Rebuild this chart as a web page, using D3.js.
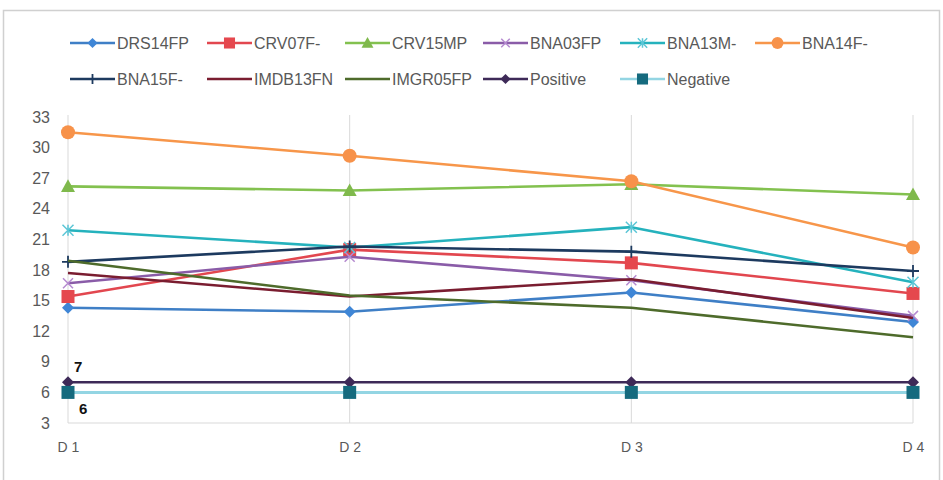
<!DOCTYPE html>
<html>
<head>
<meta charset="utf-8">
<script src="https://cdn.jsdelivr.net/npm/d3@7"></script>
<style>
  html, body { margin: 0; padding: 0; background: #fff; }
  svg { display: block; font-family: "Liberation Sans", Arial, sans-serif; }
</style>
</head>
<body>
<svg id="chart" width="943" height="480"></svg>
<script>
// Days on the x axis
const categories = ["D 1", "D 2", "D 3", "D 4"];

// Series values per day
const DRS14FP  = [14.3, 13.9, 15.8, 12.9];
const CRV07F   = [15.4, 20.0, 18.7, 15.7];
const CRV15MP  = [26.2, 25.8, 26.4, 25.4];
const BNA03FP  = [16.7, 19.3, 17.0, 13.5];
const BNA13M   = [21.9, 20.2, 22.2, 16.8];
const BNA14F   = [31.5, 29.2, 26.7, 20.2];
const BNA15F   = [18.8, 20.3, 19.8, 17.9];
const IMDB13FN = [17.7, 15.4, 17.1, 13.3];
const IMGR05FP = [18.9, 15.5, 14.3, 11.4];
const Positive = [7, 7, 7, 7];
const Negative = [6, 6, 6, 6];

// Y axis ticks
const yTicks = [3, 6, 9, 12, 15, 18, 21, 24, 27, 30, 33];

// Series table: name, values, line colour, marker shape and marker colour
const series = [
  { name: "DRS14FP",  values: DRS14FP,  color: "#3f7fc6", marker: "diamond",  mcolor: "#3f86d6" },
  { name: "CRV07F-",  values: CRV07F,   color: "#e2474f", marker: "square",   mcolor: "#e5484e" },
  { name: "CRV15MP",  values: CRV15MP,  color: "#83c14f", marker: "triangle", mcolor: "#7fb94c" },
  { name: "BNA03FP",  values: BNA03FP,  color: "#8a5ca8", marker: "x",        mcolor: "#b58ad0" },
  { name: "BNA13M-",  values: BNA13M,   color: "#25b2bd", marker: "star",     mcolor: "#5cc6d6" },
  { name: "BNA14F-",  values: BNA14F,   color: "#f7964a", marker: "circle",   mcolor: "#f7924a" },
  { name: "BNA15F-",  values: BNA15F,   color: "#1d3a5f", marker: "plus",     mcolor: "#1d3a5f" },
  { name: "IMDB13FN", values: IMDB13FN, color: "#7a1d30", marker: null,       mcolor: null },
  { name: "IMGR05FP", values: IMGR05FP, color: "#4e6b2b", marker: null,       mcolor: null },
  { name: "Positive", values: Positive, color: "#3e2a58", marker: "diamond",  mcolor: "#3e2a58" },
  { name: "Negative", values: Negative, color: "#93d5e3", marker: "square",   mcolor: "#156a7e" }
];

const svg = d3.select("#chart");

// Outer chart frame
svg.append("rect")
  .attr("x", 3.5).attr("y", 10.5)
  .attr("width", 936).attr("height", 480)
  .attr("fill", "#fff")
  .attr("stroke", "#d0d0d0")
  .attr("stroke-width", 1.5);

const x = d3.scalePoint().domain(categories).range([68, 913]);
const y = d3.scaleLinear().domain([3, 33]).range([423, 117]);

// Vertical gridlines at each category
svg.append("g")
  .selectAll("line")
  .data(categories)
  .join("line")
  .attr("x1", d => x(d)).attr("x2", d => x(d))
  .attr("y1", y(33) - 2).attr("y2", y(3))
  .attr("stroke", "#d9d9d9")
  .attr("stroke-width", 1);

// Horizontal base axis line
svg.append("line")
  .attr("x1", x(categories[0])).attr("x2", x(categories[categories.length - 1]))
  .attr("y1", y(3)).attr("y2", y(3))
  .attr("stroke", "#d9d9d9")
  .attr("stroke-width", 1);

// Y axis labels
const yAxis = d3.axisLeft(y).tickValues(yTicks).tickSize(0).tickPadding(0);
const yg = svg.append("g").attr("transform", "translate(50,0)").call(yAxis);
yg.select(".domain").remove();
yg.selectAll("text")
  .attr("fill", "#595959")
  .style("font-size", "16px")
  .style("font-family", "'Liberation Sans', Arial, sans-serif");

// X axis labels
const xAxis = d3.axisBottom(x).tickSize(0).tickPadding(0);
const xg = svg.append("g").attr("transform", "translate(0,442)").call(xAxis);
xg.select(".domain").remove();
xg.selectAll("text")
  .attr("fill", "#595959")
  .style("font-size", "14px")
  .style("font-family", "'Liberation Sans', Arial, sans-serif");

// Marker drawing helper
function drawMarker(g, shape, cx, cy, color, scale = 1) {
  const s = scale;
  if (shape === "circle") {
    g.append("circle").attr("cx", cx).attr("cy", cy).attr("r", 7 * s).attr("fill", color);
  } else if (shape === "square") {
    g.append("rect").attr("x", cx - 6.5 * s).attr("y", cy - 6.5 * s)
      .attr("width", 13 * s).attr("height", 13 * s).attr("fill", color);
  } else if (shape === "diamond") {
    const r = 6 * s;
    g.append("path").attr("d", `M${cx},${cy - r}L${cx + r},${cy}L${cx},${cy + r}L${cx - r},${cy}Z`).attr("fill", color);
  } else if (shape === "triangle") {
    const r = 7 * s;
    g.append("path").attr("d", `M${cx},${cy - r}L${cx + r},${cy + r * 0.8}L${cx - r},${cy + r * 0.8}Z`).attr("fill", color);
  } else if (shape === "x") {
    const r = 5 * s;
    g.append("path").attr("d", `M${cx - r},${cy - r}L${cx + r},${cy + r}M${cx + r},${cy - r}L${cx - r},${cy + r}`)
      .attr("stroke", color).attr("stroke-width", 1.5).attr("fill", "none");
  } else if (shape === "star") {
    const r = 5.5 * s;
    g.append("path").attr("d", `M${cx - r},${cy - r}L${cx + r},${cy + r}M${cx + r},${cy - r}L${cx - r},${cy + r}M${cx},${cy - r}L${cx},${cy + r}`)
      .attr("stroke", color).attr("stroke-width", 1.5).attr("fill", "none");
  } else if (shape === "plus") {
    const r = 6 * s;
    g.append("path").attr("d", `M${cx - r},${cy}L${cx + r},${cy}M${cx},${cy - r}L${cx},${cy + r}`)
      .attr("stroke", color).attr("stroke-width", 1.8).attr("fill", "none");
  }
}

// Series lines and markers
const line = d3.line().x((d, i) => x(categories[i])).y(d => y(d));
const plot = svg.append("g");
series.forEach(s => {
  const g = plot.append("g");
  g.append("path")
    .attr("d", line(s.values))
    .attr("fill", "none")
    .attr("stroke", s.color)
    .attr("stroke-width", s.name === "Negative" ? 3 : 2.6)
    .attr("stroke-linejoin", "round");
  if (s.marker) {
    s.values.forEach((v, i) => drawMarker(g, s.marker, x(categories[i]), y(v), s.mcolor));
  }
});

// Value labels for the control series
svg.append("text")
  .attr("x", x(categories[0]) + 6).attr("y", y(Positive[0]) - 10)
  .attr("font-size", "15px").attr("font-weight", "bold").attr("fill", "#111")
  .text(Positive[0]);
svg.append("text")
  .attr("x", x(categories[0]) + 11).attr("y", y(Negative[0]) + 22)
  .attr("font-size", "15px").attr("font-weight", "bold").attr("fill", "#111")
  .text(Negative[0]);

// Legend: two rows of six columns
const legendCols = [70, 207, 345, 483, 620, 755];
const legendRows = [43, 79];
const legend = svg.append("g");
series.forEach((s, i) => {
  const col = i % 6, row = Math.floor(i / 6);
  const lx = legendCols[col], ly = legendRows[row];
  const g = legend.append("g");
  g.append("line")
    .attr("x1", lx).attr("x2", lx + 45)
    .attr("y1", ly).attr("y2", ly)
    .attr("stroke", s.color).attr("stroke-width", 2.6);
  if (s.marker) drawMarker(g, s.marker, lx + 22.5, ly, s.mcolor, 0.85);
  g.append("text")
    .attr("x", lx + 47).attr("y", ly + 5.5)
    .attr("font-size", "16px").attr("fill", "#595959")
    .text(s.name);
});
</script>
</body>
</html>
